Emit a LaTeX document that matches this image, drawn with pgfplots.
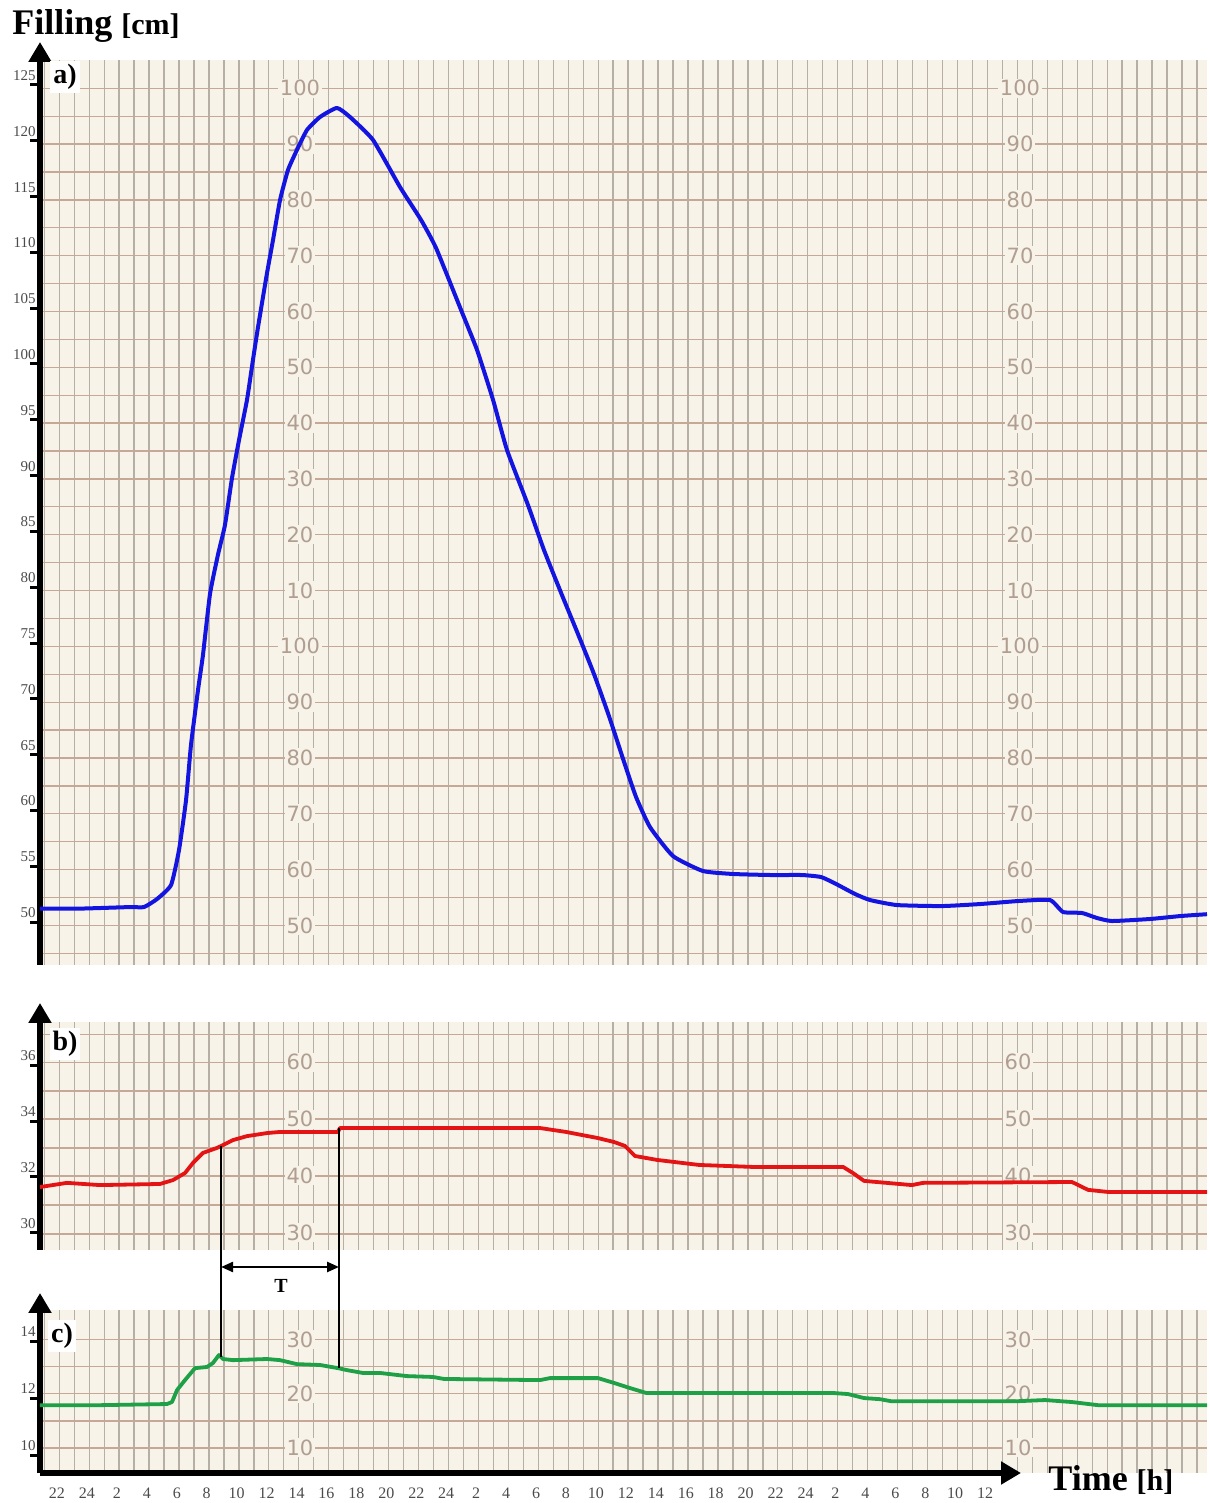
\documentclass[border=0pt]{standalone}
\usepackage{fontspec}
\setmainfont{Liberation Serif}
\newfontfamily\paperfont{DejaVu Sans}
\usepackage{pgfplots}
\pgfplotsset{compat=1.18}
\usetikzlibrary{arrows.meta}
\definecolor{paper}{RGB}{248,243,233}
\definecolor{gridv}{RGB}{182,175,166}
\definecolor{gridh}{RGB}{198,168,150}
\definecolor{plbl}{RGB}{176,158,144}
\definecolor{cblue}{RGB}{20,20,225}
\definecolor{cred}{RGB}{228,20,20}
\definecolor{cgreen}{RGB}{30,160,70}
\definecolor{tlbl}{RGB}{75,75,75}
\tikzset{plbl/.style={font=\paperfont\fontsize{10.5}{11}\selectfont, text=plbl, fill=paper, inner sep=0.8pt}}
\newcommand{\pl}[3]{\node[plbl] at (axis cs:#1,#2) {\paperfont #3};}
\pgfplotsset{
 chart/.style={
  scale only axis, width=583.5pt,
  xmin=-1.1356, xmax=76.82,
  axis background/.style={fill=paper},
  axis x line*=bottom, axis y line*=left,
  xtick={-0.85,0.15,...,76.15}, xticklabels={},
  xmajorgrids, major grid style={gridv, line width=0.65pt},
  major x tick style={draw=none},
  ymajorgrids=false, yminorgrids, minor grid style={gridh, line width=0.65pt},
  minor tick length=0pt,
  major y tick style={black, line width=1.5pt},
  tick align=outside, major tick length=5pt,
  yticklabel style={font=\fontsize{7.5}{8}\selectfont, text=tlbl, anchor=south east, inner sep=0pt, xshift=3pt, yshift=2pt},
  /pgf/number format/assume math mode=true,
 },
}
\begin{document}
\begin{tikzpicture}
\useasboundingbox (0,0) rectangle (604.5pt,751.5pt);
% ---------------- a)
\begin{axis}[chart, at={(20pt,269pt)}, anchor=south west, height=452.5pt,
  ymin=46.15, ymax=127.24, ytick={50,55,...,125}, minor ytick={47.2,49.7,...,124.7},
  x axis line style={draw=none},
  y axis line style={line width=3pt, -{Triangle[length=10pt,width=11pt]}, shorten >=-9pt}]
\pl{16.23}{124.7}{100}\pl{16.23}{119.7}{90}\pl{16.23}{114.7}{80}\pl{16.23}{109.7}{70}
\pl{16.23}{104.7}{60}\pl{16.23}{99.7}{50}\pl{16.23}{94.7}{40}\pl{16.23}{89.7}{30}
\pl{16.23}{84.7}{20}\pl{16.23}{79.7}{10}\pl{16.23}{74.7}{100}\pl{16.23}{69.7}{90}
\pl{16.23}{64.7}{80}\pl{16.23}{59.7}{70}\pl{16.23}{54.7}{60}\pl{16.23}{49.7}{50}
\pl{64.33}{124.7}{100}\pl{64.33}{119.7}{90}\pl{64.33}{114.7}{80}\pl{64.33}{109.7}{70}
\pl{64.33}{104.7}{60}\pl{64.33}{99.7}{50}\pl{64.33}{94.7}{40}\pl{64.33}{89.7}{30}
\pl{64.33}{84.7}{20}\pl{64.33}{79.7}{10}\pl{64.33}{74.7}{100}\pl{64.33}{69.7}{90}
\pl{64.33}{64.7}{80}\pl{64.33}{59.7}{70}\pl{64.33}{54.7}{60}\pl{64.33}{49.7}{50}
\addplot[cblue, line width=2pt, line join=round, smooth, tension=0.3] coordinates {
(-1.14,51.2) (1.5,51.2) (4.88,51.34) (5.81,51.34) (6.68,52.06) (7.62,53.32) (8.15,56.45)
(8.62,60.93) (8.95,65.86) (9.42,70.79) (9.75,73.92) (10.22,79.39) (10.75,82.89) (11.22,85.57)
(11.69,89.78) (12.16,93.19) (12.69,96.77) (13.09,100.36) (13.43,103.32) (14.03,108.15)
(14.43,111.11) (14.90,114.70) (15.43,117.38) (16.03,119.18) (16.70,120.97) (17.57,122.13)
(18.70,122.94) (19.57,122.13) (21.11,120.07) (22.91,115.86) (24.32,112.90) (25.32,110.39)
(26.99,104.84) (28.06,101.25) (29.13,96.77) (30.06,92.29) (31.46,87.37) (32.53,83.33)
(33.73,79.30) (34.80,75.81) (35.87,72.22) (36.87,68.46) (37.88,64.34) (38.68,61.20)
(39.61,58.51) (41.15,55.91) (43.15,54.57) (45.22,54.30) (47.76,54.21) (49.77,54.21)
(51.04,54.03) (52.04,53.41) (53.31,52.51) (54.31,51.97) (56.11,51.52) (59.12,51.43)
(61.66,51.61) (64.20,51.88) (66.33,51.97) (67.20,50.90) (68.47,50.81) (69.47,50.36)
(70.47,50.09) (73.01,50.27) (75.08,50.54) (76.82,50.7)};
\end{axis}
% ---------------- b)
\begin{axis}[chart, at={(20pt,126.5pt)}, anchor=south west, height=114pt,
  ymin=29.39, ymax=37.54, ytick={30,32,34,36},
  minor ytick={29.96,31.0,32.04,33.04,34.07,35.07,36.1,37.1},
  x axis line style={draw=none},
  y axis line style={line width=3pt, -{Triangle[length=10pt,width=11pt]}, shorten >=-9.5pt}]
\pl{16.23}{36.1}{60}\pl{16.23}{34.07}{50}\pl{16.23}{32.04}{40}\pl{16.23}{30.0}{30}
\pl{64.2}{36.1}{60}\pl{64.2}{34.07}{50}\pl{64.2}{32.04}{40}\pl{64.2}{30.0}{30}
\addplot[cred, line width=1.9pt, line join=round] coordinates {
(-1.14,31.64) (0.67,31.79) (2.87,31.71) (6.88,31.75) (7.75,31.89) (8.55,32.14) (9.08,32.50)
(9.75,32.86) (10.69,33.04) (11.09,33.14) (11.76,33.32) (12.69,33.46) (14.03,33.57)
(14.90,33.61) (18.77,33.61) (18.90,33.75) (22.91,33.75) (32.26,33.75) (34.00,33.61)
(36.14,33.39) (37.21,33.25) (37.94,33.11) (38.61,32.75) (40.08,32.61) (42.89,32.43)
(46.43,32.36) (52.51,32.36) (53.17,32.14) (53.91,31.86) (57.11,31.71) (57.85,31.79)
(67.80,31.82) (68.87,31.54) (70.28,31.46) (76.82,31.46)};
\coordinate (B1) at (axis cs:10.96,33.1);
\coordinate (B2) at (axis cs:18.84,33.75);
\end{axis}
% ---------------- c)
\begin{axis}[chart, at={(20pt,15pt)}, anchor=south west, height=81.5pt,
  ymin=9.37, ymax=15.09, ytick={10,12,14},
  minor ytick={10.25,11.2,12.15,13.1,14.05},
  x axis line style={line width=3pt, -{Triangle[length=10pt,width=11pt]}, shorten >=93pt},
  y axis line style={line width=3pt, -{Triangle[length=10pt,width=11pt]}, shorten >=-8.5pt},
  extra x ticks={0,2,...,62},
  extra x tick labels={22,24,2,4,6,8,10,12,14,16,18,20,22,24,2,4,6,8,10,12,14,16,18,20,22,24,2,4,6,8,10,12},
  extra x tick style={grid=none, major tick length=4pt, major x tick style={black, line width=0.8pt},
     xticklabel style={font=\fontsize{8}{8}\selectfont, text=tlbl}}]
\pl{16.23}{14.05}{30}\pl{16.23}{12.15}{20}\pl{16.23}{10.25}{10}
\pl{64.2}{14.05}{30}\pl{64.2}{12.15}{20}\pl{64.2}{10.25}{10}
\addplot[cgreen, line width=1.9pt, line join=round] coordinates {
(-1.14,11.75) (2.87,11.75) (7.35,11.79) (7.68,11.86) (8.02,12.28) (8.55,12.63) (9.22,13.05)
(10.02,13.09) (10.42,13.23) (10.82,13.51) (11.09,13.37) (11.76,13.33) (14.03,13.37)
(14.90,13.33) (16.03,13.19) (17.57,13.16) (18.77,13.05) (19.37,12.98) (20.44,12.88)
(21.58,12.88) (23.38,12.77) (25.12,12.74) (25.85,12.67) (32.26,12.63) (32.93,12.70)
(36.14,12.70) (37.21,12.53) (38.28,12.35) (39.35,12.18) (46.43,12.18) (51.77,12.18)
(52.84,12.14) (53.91,12.00) (54.98,11.96) (55.71,11.89) (64.20,11.89) (66.00,11.93)
(67.80,11.86) (69.54,11.75) (76.82,11.75)};
\coordinate (C1) at (axis cs:10.96,13.45);
\coordinate (C2) at (axis cs:18.84,13.05);
\end{axis}
% annotations
\coordinate (Y) at (0,118pt);
\draw[line width=1.2pt] (B1) -- (C1);
\draw[line width=1.2pt] (B2) -- (C2);
\draw[line width=1.2pt, {Triangle[length=6pt,width=5pt]}-{Triangle[length=6pt,width=5pt]}] (B1 |- Y) -- (B2 |- Y);
\node[font=\bfseries\fontsize{10}{10}\selectfont] at (140.5pt,108.5pt) {T};
\node[fill=white, inner sep=1.5pt, font=\bfseries\fontsize{14}{14}\selectfont] at (32.5pt,713pt) {a)};
\node[fill=white, inner sep=1.5pt, font=\bfseries\fontsize{14}{14}\selectfont] at (32.5pt,229.5pt) {b)};
\node[fill=white, inner sep=1.5pt, font=\bfseries\fontsize{14}{14}\selectfont] at (31pt,83.5pt) {c)};
\node[anchor=base west, inner sep=0pt] at (6pt,734pt) {\bfseries\fontsize{18}{18}\selectfont Filling \fontsize{15}{15}\selectfont [cm]};
\node[anchor=base west, inner sep=0pt] at (524pt,6pt) {\bfseries\fontsize{18}{18}\selectfont Time \fontsize{15}{15}\selectfont [h]};
\end{tikzpicture}
\end{document}
